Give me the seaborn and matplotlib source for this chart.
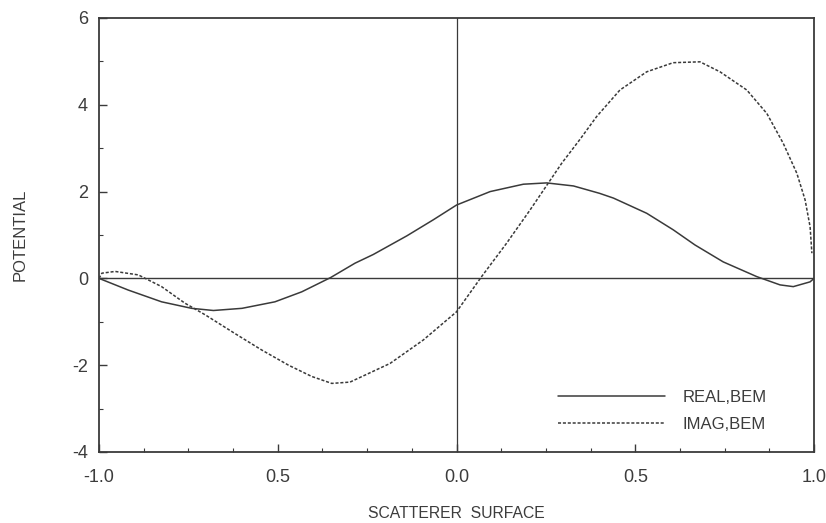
import numpy as np
import pandas as pd
import matplotlib
matplotlib.use("Agg")
import matplotlib.pyplot as plt
import seaborn as sns
from matplotlib.ticker import MultipleLocator

# values
real_x = [-1.0, -0.918, -0.825, -0.741, -0.68, -0.60, -0.508, -0.433, -0.352, -0.284,
          -0.233, -0.139, -0.065, 0.0, 0.094, 0.187, 0.252, 0.327, 0.40, 0.439,
          0.532, 0.606, 0.667, 0.746, 0.84, 0.905, 0.942, 0.989, 1.0]
real_y = [0.0, -0.27, -0.54, -0.69, -0.74, -0.69, -0.54, -0.31, 0.02, 0.35,
          0.55, 0.98, 1.35, 1.69, 2.0, 2.17, 2.2, 2.13, 1.96, 1.85,
          1.5, 1.12, 0.77, 0.38, 0.04, -0.15, -0.19, -0.08, 0.0]

imag_x = [-1.0, -0.992, -0.955, -0.89, -0.825, -0.76, -0.703, -0.62, -0.545, -0.47,
          -0.405, -0.349, -0.298, -0.186, -0.093, 0.0, 0.07, 0.14, 0.206, 0.257,
          0.294, 0.345, 0.392, 0.457, 0.532, 0.606, 0.681, 0.737, 0.812, 0.868,
          0.914, 0.952, 0.975, 0.989, 0.994]
imag_y = [0.0, 0.12, 0.16, 0.08, -0.19, -0.57, -0.84, -1.27, -1.65, -2.0,
          -2.26, -2.42, -2.39, -1.96, -1.42, -0.77, 0.04, 0.81, 1.58, 2.2,
          2.65, 3.2, 3.73, 4.34, 4.76, 4.97, 4.99, 4.76, 4.34, 3.8,
          3.11, 2.42, 1.81, 1.19, 0.58]

x_ticks = [-1.0, -0.5, 0.0, 0.5, 1.0]
x_tick_labels = ["-1.0", "0.5", "0.0", "0.5", "1.0"]
y_ticks = [-4, -2, 0, 2, 4, 6]

sns.set_style("white")
plt.rcParams['font.family'] = ['Liberation Sans', 'DejaVu Sans']
plt.rcParams['axes.unicode_minus'] = False

df = pd.concat([
    pd.DataFrame({"x": real_x, "y": real_y, "series": "REAL,BEM"}),
    pd.DataFrame({"x": imag_x, "y": imag_y, "series": "IMAG,BEM"}),
])

fig = plt.figure(figsize=(8.26, 5.23), dpi=100)
ax = fig.add_axes([0.1199, 0.1358, 0.8656, 0.8298])

ink = '#3a3a3a'
txt = '#3c3c3c'

# reference axes through the origin
ax.axhline(0, color=ink, linewidth=1.0, zorder=1)
ax.axvline(0, color=ink, linewidth=0.9, zorder=1)

sns.lineplot(data=df, x="x", y="y", style="series", sort=False,
             dashes={"REAL,BEM": "", "IMAG,BEM": (2, 1.2)},
             color=ink, linewidth=1.1, ax=ax, legend=True)

ax.set_xlim(-1, 1)
ax.set_ylim(-4, 6)
ax.set_xticks(x_ticks)
ax.set_xticklabels(x_tick_labels)
ax.set_yticks(y_ticks)
ax.xaxis.set_minor_locator(MultipleLocator(0.125))
ax.yaxis.set_minor_locator(MultipleLocator(1))
ax.tick_params(which='both', bottom=True, left=True, top=False, right=False)
ax.tick_params(which='major', direction='in', length=6, width=1, color=ink,
               labelsize=13, labelcolor=txt)
ax.tick_params(axis='x', which='major', pad=12)
ax.tick_params(axis='y', which='major', pad=8)
ax.tick_params(which='minor', direction='in', length=3, width=0.8, color=ink)

for s in ax.spines.values():
    s.set_color(ink)
    s.set_linewidth(1.3)

ax.set_xlabel("SCATTERER  SURFACE", fontsize=11.3, color=txt)
ax.set_ylabel("POTENTIAL", fontsize=12, color=txt)
ax.xaxis.set_label_coords(0.5, -0.124)
ax.yaxis.set_label_coords(-0.10, 0.5)

leg = ax.legend(loc='lower right', frameon=False, fontsize=12, handlelength=6.4,
                handletextpad=1.05, labelspacing=0.7, borderpad=0,
                bbox_to_anchor=(0.945, 0.027))
for t in leg.get_texts():
    t.set_color(txt)

fig.savefig("out.png", dpi=100, facecolor='white')
